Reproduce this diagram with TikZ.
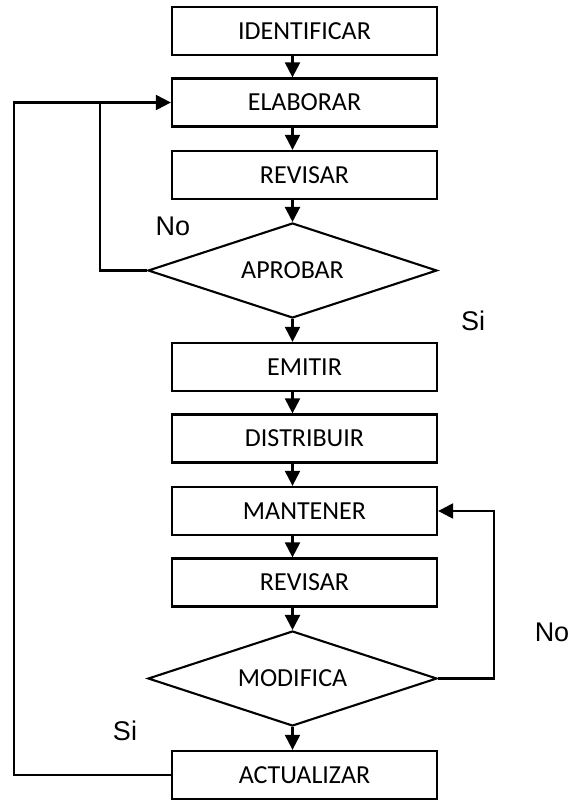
\documentclass[tikz,border=0pt]{standalone}
\usepackage{fontspec}
\setmainfont{Carlito}
\newfontfamily\labelfont{Liberation Sans}
\usetikzlibrary{shapes.geometric,arrows.meta}

\tikzset{
  stepbox/.style={draw, line width=2.3pt, rectangle, minimum width=265pt,
    minimum height=48pt, inner sep=0pt, font=\fontsize{26}{31}\selectfont},
  choice/.style={draw, line width=2.1pt, diamond, minimum width=289pt,
    minimum height=95pt, inner sep=0pt, aspect=3, font=\fontsize{26}{31}\selectfont},
  flow/.style={line width=2.3pt, -{Triangle[length=15pt,width=15pt]}},
  link/.style={line width=2.3pt},
  answer/.style={font=\labelfont\fontsize{27}{32}\selectfont, inner sep=0pt}
}

\begin{document}
\begin{tikzpicture}[x=1pt, y=-1pt]
  \useasboundingbox (0,0) rectangle (579,800);

  % main column of steps
  \node[stepbox] (id)  at (304.5, 31)    {IDENTIFICAR};
  \node[stepbox] (el)  at (304.5, 102.5) {ELABORAR};
  \node[stepbox] (rv1) at (304.5, 175)   {REVISAR};
  \node[choice]  (ap)  at (292.5, 270.5) {APROBAR};
  \node[stepbox] (em)  at (304.5, 367)   {EMITIR};
  \node[stepbox] (di)  at (304.5, 438.5) {DISTRIBUIR};
  \node[stepbox] (ma)  at (304.5, 511)   {MANTENER};
  \node[stepbox] (rv2) at (304.5, 582.5) {REVISAR};
  \node[choice]  (mo)  at (292.5, 678.5) {MODIFICA};
  \node[stepbox] (ac)  at (304.5, 775)   {ACTUALIZAR};

  % vertical axis of the arrows and the return columns
  \coordinate (axis) at (292.5, 0);
  \coordinate (outer) at (14, 0);
  \coordinate (inner) at (100, 0);
  \coordinate (right) at (494, 0);

  % arrows down the column
  \draw[flow] (id.south -| axis)  -- (el.north -| axis);
  \draw[flow] (el.south -| axis)  -- (rv1.north -| axis);
  \draw[flow] (rv1.south -| axis) -- (ap.north);
  \draw[flow] (ap.south)          -- (em.north -| axis);
  \draw[flow] (em.south -| axis)  -- (di.north -| axis);
  \draw[flow] (di.south -| axis)  -- (ma.north -| axis);
  \draw[flow] (ma.south -| axis)  -- (rv2.north -| axis);
  \draw[flow] (rv2.south -| axis) -- (mo.north);
  \draw[flow] (mo.south)          -- (ac.north -| axis);

  % return loops
  \draw[flow] (ac.west) -- (ac.west -| outer) -- (el.west -| outer) -- (el.west);
  \draw[link] (ap.west) -- (ap.west -| inner) -- (el.west -| inner);
  \draw[flow] (mo.east) -- (mo.east -| right) -- (ma.east -| right) -- (ma.east);

  % answers
  \node[answer] (no1) at (173, 226) {No};
  \node[answer] (si1) at (473, 321) {Si};
  \node[answer] (no2) at (552, 632) {No};
  \node[answer] (si2) at (125, 731) {Si};
\end{tikzpicture}
\end{document}
